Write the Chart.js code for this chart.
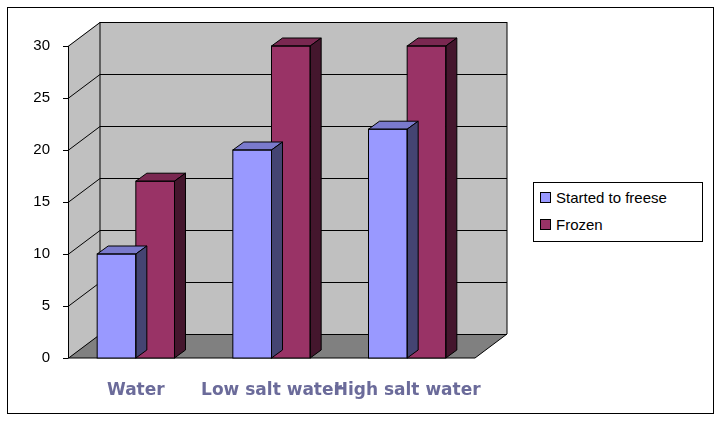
<!DOCTYPE html>
<html><head><meta charset="utf-8">
<script src="https://cdn.jsdelivr.net/npm/chart.js@4"></script>
<style>
body{margin:0;background:#fff;font-family:Arial,"Liberation Sans",sans-serif}
#frame{position:absolute;left:7px;top:7px;width:705px;height:405px;border:1px solid #000}
#wrap{position:absolute;left:0;top:0;width:720px;height:423px}
#legend{position:absolute;left:533px;top:182px;width:168px;height:58px;border:1px solid #000;background:#fff;font-size:15px}
.it{position:absolute;left:6px;display:flex;align-items:center}
.bx{width:9px;height:9px;border:1px solid #000;margin-right:5px}
</style></head><body>
<div id="frame"></div>
<div id="wrap"><canvas id="c" width="720" height="423"></canvas></div>
<div id="legend">
<div class="it" style="top:6px"><span class="bx" style="background:#9999ff"></span>Started to freese</div>
<div class="it" style="top:33px"><span class="bx" style="background:#993366"></span>Frozen</div>
</div>
<script>
const categories=["Water","Low salt water","High salt water"];
const started=[10,20,22];
const frozen=[17,30,30];
const DX=32,DY=24,BDX=11,BDY=8;
function shade(hex,f){const n=parseInt(hex.slice(1),16);let r=(n>>16)&255,g=(n>>8)&255,b=n&255;return `rgb(${r*f|0},${g*f|0},${b*f|0})`;}
const wall={id:'wall',beforeDatasetsDraw(ch){const a=ch.chartArea,c=ch.ctx,y=ch.scales.y;c.save();
c.fillStyle='#c0c0c0';c.fillRect(a.left+DX,a.top-DY,a.right-a.left,a.bottom-a.top);
c.beginPath();c.moveTo(a.left,a.top);c.lineTo(a.left+DX,a.top-DY);c.lineTo(a.left+DX,a.bottom-DY);c.lineTo(a.left,a.bottom);c.closePath();c.fill();
c.fillStyle='#808080';c.beginPath();c.moveTo(a.left,a.bottom);c.lineTo(a.left+DX,a.bottom-DY);c.lineTo(a.right+DX,a.bottom-DY);c.lineTo(a.right,a.bottom);c.closePath();c.fill();
c.strokeStyle='#000';c.lineWidth=1;
for(let v=0;v<=30;v+=5){const py=Math.round(y.getPixelForValue(v))+0.5;c.beginPath();c.moveTo(a.left,py);c.lineTo(a.left+DX,py-DY);c.lineTo(a.right+DX,py-DY);c.stroke();
c.beginPath();c.moveTo(a.left-5,py);c.lineTo(a.left,py);c.stroke();}
c.beginPath();c.moveTo(a.left+DX,a.top-DY);c.lineTo(a.left+DX,a.bottom-DY);c.moveTo(a.right+DX,a.top-DY);c.lineTo(a.right+DX,a.bottom-DY);c.stroke();
c.beginPath();c.moveTo(a.left+.5,a.top);c.lineTo(a.left+.5,a.bottom);c.lineTo(a.right,a.bottom);c.lineTo(a.right+DX,a.bottom-DY);c.stroke();
c.restore();},
afterDatasetDraw(ch,args){const c=ch.ctx,ds=ch.data.datasets[args.index],col=ds.backgroundColor;c.save();c.strokeStyle='#000';c.lineWidth=1;
args.meta.data.forEach(b=>{const l=b.x-b.width/2,r=b.x+b.width/2,t=b.y,bo=b.base;
c.fillStyle=shade(col,0.8);c.beginPath();c.moveTo(l,t);c.lineTo(l+BDX,t-BDY);c.lineTo(r+BDX,t-BDY);c.lineTo(r,t);c.closePath();c.fill();c.stroke();
c.fillStyle=shade(col,0.45);c.beginPath();c.moveTo(r,t);c.lineTo(r+BDX,t-BDY);c.lineTo(r+BDX,bo-BDY);c.lineTo(r,bo);c.closePath();c.fill();c.stroke();
c.strokeRect(l,t,b.width,bo-t);});c.restore();}};
new Chart(document.getElementById('c'),{type:'bar',
data:{labels:categories,datasets:[{data:started,backgroundColor:'#9999ff',borderWidth:0},{data:frozen,backgroundColor:'#993366',borderWidth:0}]},
options:{responsive:false,animation:false,layout:{padding:{left:0,right:245,top:46,bottom:0}},
datasets:{bar:{categoryPercentage:0.57,barPercentage:1}},
plugins:{legend:{display:false},tooltip:{enabled:false}},
scales:{x:{grid:{display:false},border:{display:false},afterFit(s){s.height=65;},
ticks:{color:'#6b6b9a',maxRotation:0,minRotation:0,autoSkip:false,font:{size:17,weight:'bold',family:'Verdana, DejaVu Sans'},padding:14}},
y:{min:0,max:30,grid:{display:false},border:{display:false},afterFit(s){s.width=68;},
ticks:{stepSize:5,color:'#000',font:{size:15,family:'Arial'},padding:10}}}},
plugins:[wall]});
</script></body></html>
